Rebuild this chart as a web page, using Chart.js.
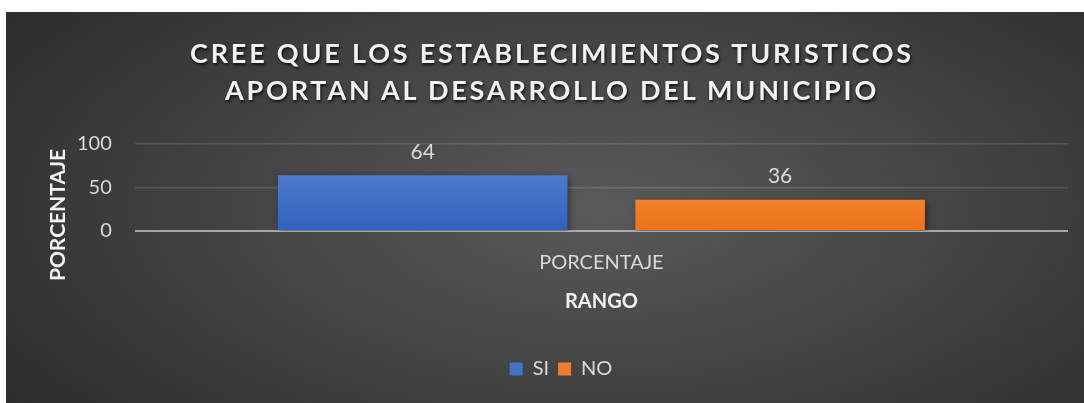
<!DOCTYPE html>
<html>
<head>
<meta charset="utf-8">
<script src="https://cdn.jsdelivr.net/npm/chart.js@4"></script>
<style>
  html, body { margin: 0; padding: 0; background: #ffffff; width: 1084px; height: 403px; overflow: hidden; }
  #box {
    position: absolute; left: 6px; top: 12px; width: 1078px; height: 391px;
    background: radial-gradient(ellipse 70% 90% at 55% 50%, #5a5a5a 0%, #454545 45%, #2b2b2b 100%);
  }
  #titulo {
    position: absolute; left: 14px; top: 22px; width: 1064px; text-align: center;
    font-family: Lato, "Open Sans", sans-serif; font-weight: 700; font-size: 27px;
    line-height: 37px; letter-spacing: 2.8px; color: #f2f2f2;
    text-shadow: 1px 2px 3px rgba(0,0,0,0.75);
  }
  #lienzo { position: absolute; left: 0; top: 0; }
</style>
</head>
<body>
<div id="box">
  <canvas id="lienzo" width="1078" height="391"></canvas>
  <div id="titulo">CREE QUE LOS ESTABLECIMIENTOS TURISTICOS<br>APORTAN AL DESARROLLO DEL MUNICIPIO</div>
</div>
<script>
// Datos del gráfico
const categorias = ['PORCENTAJE'];
const series = ['SI', 'NO'];
const valoresSi = [64];
const valoresNo = [36];
const ticksY = [0, 50, 100];

const textoClaro = '#d9d9d9';
const fuente = 'Lato, "Open Sans", sans-serif';

// Degradado vertical para las barras
function degradado(context, arriba, abajo) {
    const chart = context.chart;
    const area = chart.chartArea;
    if (!area) return abajo;
    const el = context.element;
    const y0 = el && el.y !== undefined ? el.y : area.top;
    const g = chart.ctx.createLinearGradient(0, y0, 0, area.bottom);
    g.addColorStop(0, arriba);
    g.addColorStop(1, abajo);
    return g;
}

// Etiquetas de valor encima de las barras
const etiquetasValor = {
    id: 'etiquetasValor',
    afterDatasetsDraw(chart) {
        const ctx = chart.ctx;
        ctx.save();
        ctx.font = '21px ' + fuente;
        ctx.fillStyle = textoClaro;
        ctx.textAlign = 'center';
        ctx.textBaseline = 'middle';
        chart.data.datasets.forEach((ds, i) => {
            chart.getDatasetMeta(i).data.forEach((bar, j) => {
                ctx.fillText(ds.data[j], bar.x, bar.y - 23);
            });
        });
        ctx.restore();
    }
};

// Sombra suave de las barras
const sombraBarras = {
    id: 'sombraBarras',
    beforeDatasetsDraw(chart) {
        chart.ctx.save();
        chart.ctx.shadowColor = 'rgba(0,0,0,0.45)';
        chart.ctx.shadowBlur = 6;
        chart.ctx.shadowOffsetX = 2;
        chart.ctx.shadowOffsetY = 2;
    },
    afterDatasetsDraw(chart) {
        chart.ctx.restore();
    }
};

// Título del eje Y, centrado en el alto del bloque del gráfico (como en Excel)
const tituloEjeY = {
    id: 'tituloEjeY',
    afterDraw(chart) {
        const ctx = chart.ctx;
        ctx.save();
        ctx.translate(52, 203);
        ctx.rotate(-Math.PI / 2);
        ctx.font = 'bold 21px ' + fuente;
        ctx.fillStyle = '#f2f2f2';
        ctx.textAlign = 'center';
        ctx.textBaseline = 'middle';
        ctx.fillText('PORCENTAJE', 0, 0);
        ctx.restore();
    }
};

new Chart(document.getElementById('lienzo'), {
    type: 'bar',
    data: {
        labels: categorias,
        datasets: [{
            label: series[0],
            data: valoresSi,
            backgroundColor: (c) => degradado(c, '#6188d2', '#2f61be'),
            borderWidth: 0
        }, {
            label: series[1],
            data: valoresNo,
            backgroundColor: (c) => degradado(c, '#f59b5c', '#ee7216'),
            borderWidth: 0
        }]
    },
    plugins: [sombraBarras, etiquetasValor, tituloEjeY],
    options: {
        responsive: false,
        animation: false,
        devicePixelRatio: 1,
        categoryPercentage: 0.766,
        barPercentage: 0.81,
        layout: { padding: { top: 132, right: 16, left: 48, bottom: 14 } },
        scales: {
            y: {
                min: 0,
                max: 100,
                afterBuildTicks: (axis) => { axis.ticks = ticksY.map(v => ({ value: v })); },
                ticks: { color: textoClaro, font: { family: fuente, size: 20 }, padding: 23 },
                grid: {
                    color: (c) => c.tick.value === 0 ? 'rgba(200,200,200,0.75)' : 'rgba(255,255,255,0.13)',
                    lineWidth: (c) => c.tick.value === 0 ? 2 : 1.5,
                    drawTicks: false
                },
                border: { display: false }
            },
            x: {
                ticks: { color: textoClaro, font: { family: fuente, size: 20 }, padding: 12 },
                grid: { display: false },
                border: { display: false },
                title: {
                    display: true,
                    text: 'RANGO',
                    color: '#f2f2f2',
                    font: { family: fuente, size: 20, weight: 'bold' },
                    padding: { top: 3, bottom: 36 }
                }
            }
        },
        plugins: {
            legend: {
                position: 'bottom',
                labels: {
                    color: textoClaro,
                    font: { family: fuente, size: 20 },
                    boxWidth: 13,
                    boxHeight: 13,
                    padding: 9,
                    generateLabels: (chart) => chart.data.datasets.map((ds, i) => ({
                        text: ds.label,
                        fillStyle: i === 0 ? '#4472c4' : '#ed7d31',
                        strokeStyle: 'transparent',
                        lineWidth: 0,
                        fontColor: textoClaro,
                        datasetIndex: i
                    }))
                }
            },
            title: { display: false },
            tooltip: { enabled: false }
        }
    }
});
</script>
</body>
</html>
